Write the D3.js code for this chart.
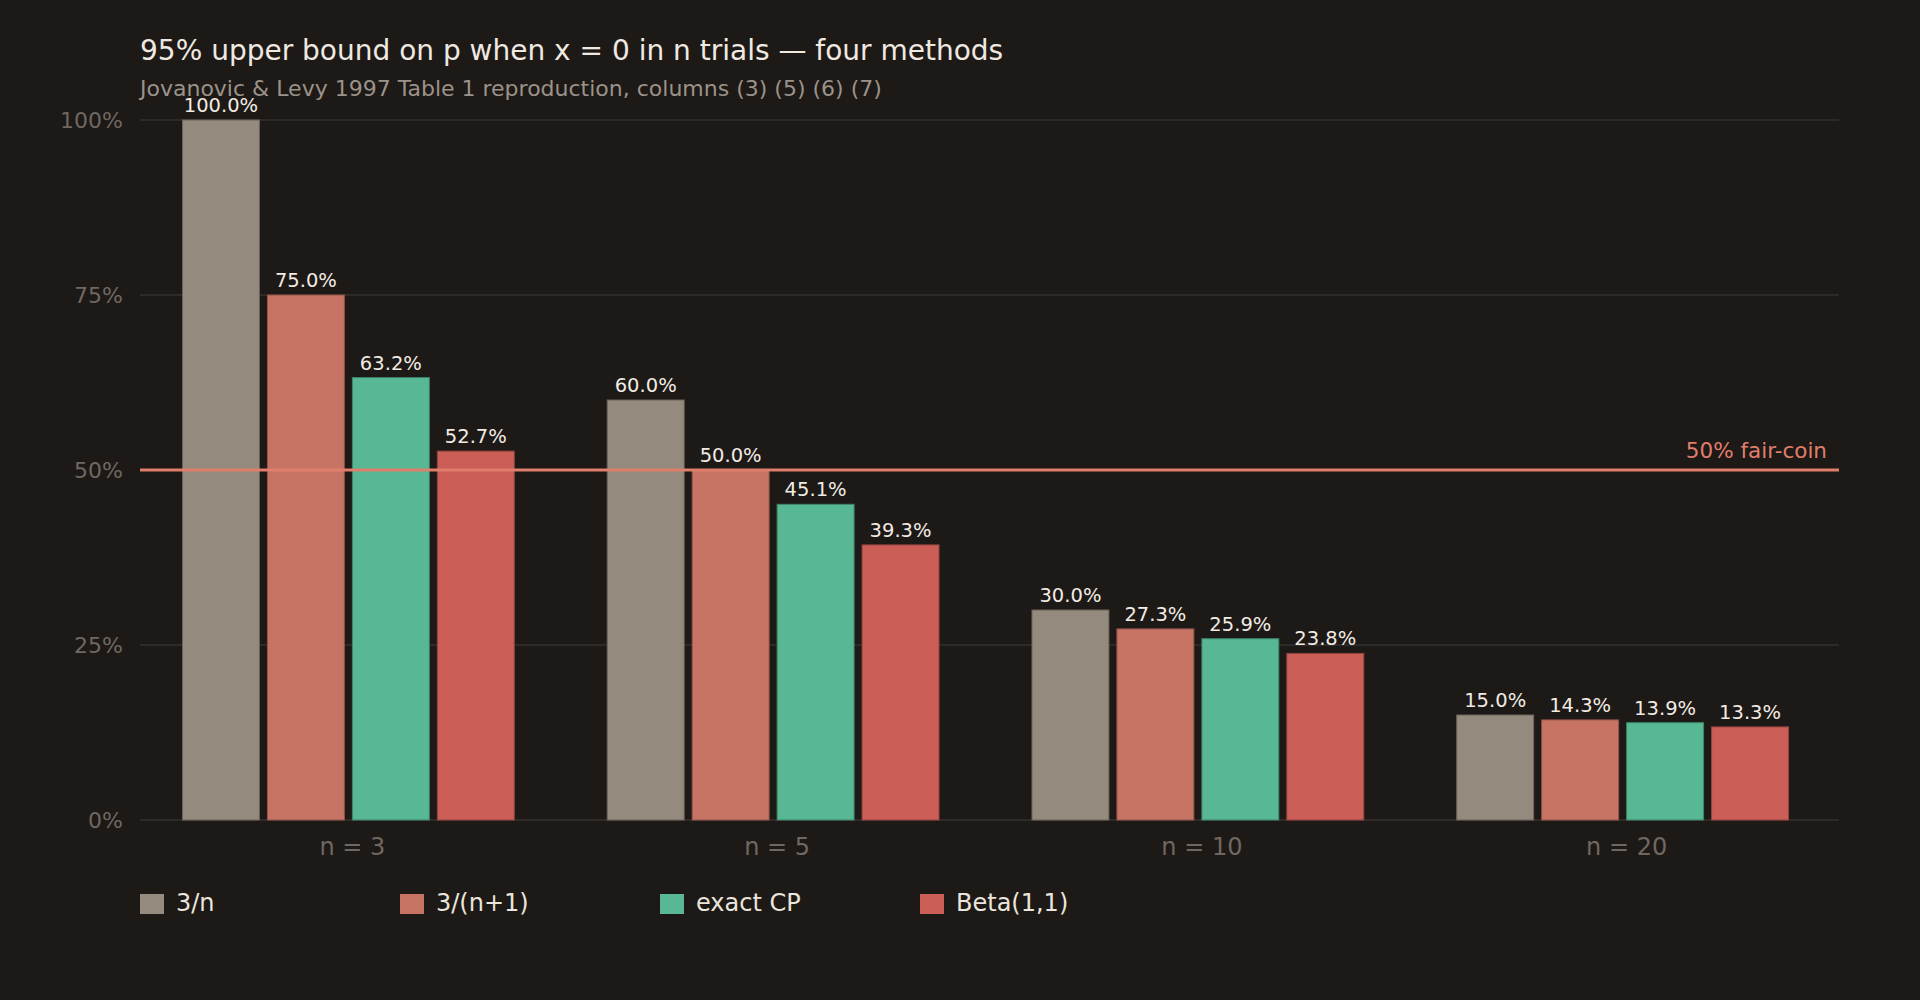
<!DOCTYPE html>
<html>
<head>
<meta charset="utf-8">
<script src="https://cdn.jsdelivr.net/npm/d3@7"></script>
<style>
  html, body { margin: 0; padding: 0; background: #1d1916; }
  svg { display: block; }
  text { font-family: "DejaVu Sans", sans-serif; }
</style>
</head>
<body>
<script>
// data
var groups = ["n = 3", "n = 5", "n = 10", "n = 20"];
var methods = ["3/n", "3/(n+1)", "exact CP", "Beta(1,1)"];
var colors = ["#958a7e", "#c87464", "#57b893", "#cb5f57"];
var values = [
  [100.0, 75.0, 63.2, 52.7],
  [60.0, 50.0, 45.1, 39.3],
  [30.0, 27.3, 25.9, 23.8],
  [15.0, 14.3, 13.9, 13.3]
];
var yTicks = [0, 25, 50, 75, 100];
var refValue = 50;

var width = 1920, height = 1000;
var margin = {top: 120, right: 81, bottom: 180, left: 140};
var w = width - margin.left - margin.right;
var h = height - margin.top - margin.bottom;

var svg = d3.select("body").append("svg")
    .attr("width", width)
    .attr("height", height);

svg.append("rect").attr("width", width).attr("height", height).attr("fill", "#1d1916");

svg.append("text")
    .attr("x", margin.left).attr("y", 60)
    .attr("fill", "#efe9e2")
    .style("font-size", "28px")
    .text("95% upper bound on p when x = 0 in n trials \u2014 four methods");

svg.append("text")
    .attr("x", margin.left).attr("y", 96)
    .attr("fill", "#9b928a")
    .style("font-size", "22px")
    .text("Jovanovic & Levy 1997 Table 1 reproduction, columns (3) (5) (6) (7)");

var g = svg.append("g").attr("transform", "translate(" + margin.left + "," + margin.top + ")");

var x0 = d3.scaleBand().domain(groups).range([0, w]).paddingInner(0.2).paddingOuter(0.1);
var x1 = d3.scaleBand().domain(methods).range([0, x0.bandwidth()]);
var y = d3.scaleLinear().domain([0, 100]).range([h, 0]);
var barGap = 8;

// grid
g.selectAll(".grid")
  .data(yTicks)
  .enter().append("line")
    .attr("class", "grid")
    .attr("x1", 0).attr("x2", w)
    .attr("y1", function(d) { return y(d); })
    .attr("y2", function(d) { return y(d); })
    .attr("stroke", "#2e2a27")
    .attr("stroke-width", 2);

// y axis
var yAxis = g.append("g")
    .call(d3.axisLeft(y).tickValues(yTicks).tickSize(0).tickPadding(17).tickFormat(function(d) { return d + "%"; }));
yAxis.select(".domain").remove();
yAxis.selectAll("text").attr("fill", "#6f6862").style("font-size", "22px").style("font-family", "DejaVu Sans");

// x axis
var xAxis = g.append("g")
    .attr("transform", "translate(0," + h + ")")
    .call(d3.axisBottom(x0).tickSize(0).tickPadding(18));
xAxis.select(".domain").remove();
xAxis.selectAll("text").attr("fill", "#6f6862").style("font-size", "24px").style("font-family", "DejaVu Sans");

// bars
var grp = g.selectAll(".grp")
  .data(values)
  .enter().append("g")
    .attr("class", "grp")
    .attr("transform", function(d, i) { return "translate(" + x0(groups[i]) + ",0)"; });

grp.selectAll("rect")
  .data(function(d) { return d; })
  .enter().append("rect")
    .attr("x", function(d, i) { return x1(methods[i]); })
    .attr("y", function(d) { return y(d); })
    .attr("width", x1.bandwidth() - barGap)
    .attr("height", function(d) { return h - y(d); })
    .attr("fill", function(d, i) { return colors[i]; })
    .attr("stroke", function(d, i) { return d3.color(colors[i]).darker(0.9); })
    .attr("stroke-width", 1);

grp.selectAll(".val")
  .data(function(d) { return d; })
  .enter().append("text")
    .attr("class", "val")
    .attr("x", function(d, i) { return x1(methods[i]) + (x1.bandwidth() - barGap) / 2; })
    .attr("y", function(d) { return y(d) - 8; })
    .attr("text-anchor", "middle")
    .attr("fill", "#f1ebe4")
    .style("font-size", "19.5px")
    .text(function(d) { return d.toFixed(1) + "%"; });

// 50% reference line
g.append("line")
    .attr("x1", 0).attr("x2", w)
    .attr("y1", y(refValue)).attr("y2", y(refValue))
    .attr("stroke", "#e07e6c")
    .attr("stroke-width", 3);

g.append("text")
    .attr("x", w - 12).attr("y", y(refValue) - 12)
    .attr("text-anchor", "end")
    .attr("fill", "#e07e6c")
    .style("font-size", "21.5px")
    .text("50% fair-coin");

// legend
var legend = svg.append("g").attr("transform", "translate(" + margin.left + ",894)");
var item = legend.selectAll(".item")
  .data(methods)
  .enter().append("g")
    .attr("class", "item")
    .attr("transform", function(d, i) { return "translate(" + (i * 260) + ",0)"; });
item.append("rect")
    .attr("width", 24).attr("height", 20)
    .attr("fill", function(d, i) { return colors[i]; });
item.append("text")
    .attr("x", 36).attr("y", 17)
    .attr("fill", "#ebe5dd")
    .style("font-size", "24px")
    .text(function(d) { return d; });
</script>
</body>
</html>
